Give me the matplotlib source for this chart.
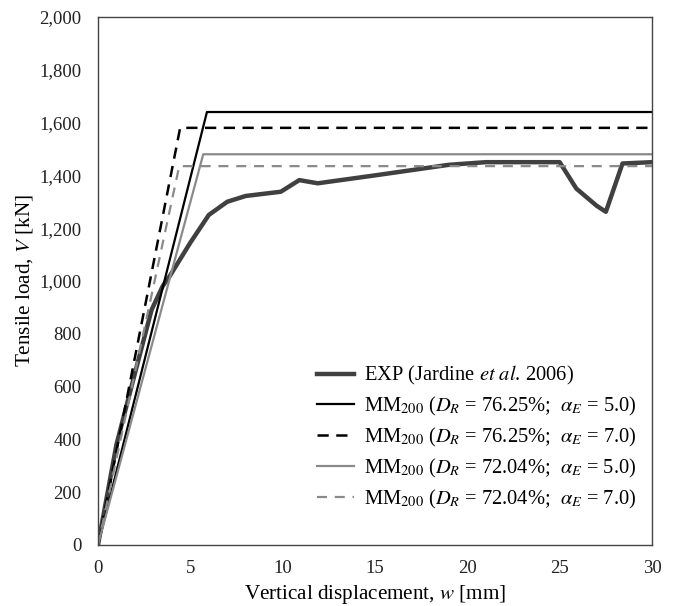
import matplotlib
matplotlib.use('Agg')
import matplotlib.pyplot as plt
from matplotlib.ticker import FuncFormatter

plt.rcParams['font.family'] = 'Liberation Serif'
plt.rcParams['mathtext.fontset'] = 'stix'

# experimental curve (Jardine et al. 2006)
exp_w = [0, 1.0, 2.0, 2.9, 3.5, 3.9, 5.0, 6.0, 7.0, 8.0, 9.9, 10.9, 11.9,
         15.0, 19.0, 21.0, 25.0, 25.9, 27.0, 27.5, 28.4, 30.0]
exp_v = [0, 380, 650, 890, 980, 1020, 1145, 1250, 1300, 1322, 1338, 1382, 1370,
         1400, 1440, 1450, 1450, 1350, 1285, 1262, 1445, 1450]

# MM200 model curves: origin -> yield -> plateau
mm_a_w = [0, 5.9, 30]
mm_a_v = [0, 1640, 1640]
mm_b_w = [0, 4.45, 30]
mm_b_v = [0, 1580, 1580]
mm_c_w = [0, 5.7, 30]
mm_c_v = [0, 1480, 1480]
mm_d_w = [0, 4.4, 30]
mm_d_v = [0, 1435, 1435]

labels = [
    'EXP (Jardine $et$ $al$. 2006)',
    'MM$_{200}$ ($D_R$ = 76.25%;  $\\alpha_E$ = 5.0)',
    'MM$_{200}$ ($D_R$ = 76.25%;  $\\alpha_E$ = 7.0)',
    'MM$_{200}$ ($D_R$ = 72.04%;  $\\alpha_E$ = 5.0)',
    'MM$_{200}$ ($D_R$ = 72.04%;  $\\alpha_E$ = 7.0)',
]

fig = plt.figure(figsize=(6.78, 6.06), dpi=100)
ax = fig.add_axes([0.1445, 0.1007, 0.8172, 0.8713])

ax.plot(exp_w, exp_v, color='#404040', linewidth=3.2, label=labels[0])
ax.plot(mm_a_w, mm_a_v, color='black', linewidth=1.6, label=labels[1])
ax.plot(mm_b_w, mm_b_v, color='black', linewidth=1.8, linestyle=(0, (4.5, 3)), label=labels[2])
ax.plot(mm_c_w, mm_c_v, color='#8a8a8a', linewidth=1.6, label=labels[3])
ax.plot(mm_d_w, mm_d_v, color='#8a8a8a', linewidth=1.6, linestyle=(0, (4.5, 3.5)), label=labels[4])

ax.set_xlim(0, 30)
ax.set_ylim(0, 2000)
ax.set_xticks([0, 5, 10, 15, 20, 25, 30])
ax.set_yticks(range(0, 2001, 200))
ax.yaxis.set_major_formatter(FuncFormatter(lambda v, p: f'{int(v):,}'))
ax.tick_params(length=0, labelsize=13.5, colors='#222222')
ax.tick_params(axis='y', pad=12)
ax.tick_params(axis='x', pad=11)
for s in ax.spines.values():
    s.set_color('#444444')
    s.set_linewidth(1.0)

ax.set_xlabel('Vertical displacement, $w$ [mm]', fontsize=15.2, labelpad=4)
ax.set_ylabel('Tensile load, $V$ [kN]', fontsize=15.2, labelpad=3)

ax.legend(loc='lower right', bbox_to_anchor=(1.006, 0.03), frameon=False,
          fontsize=14.8, handlelength=1.8, handletextpad=0.5, labelspacing=0.38)

fig.savefig('out.png', dpi=100)
